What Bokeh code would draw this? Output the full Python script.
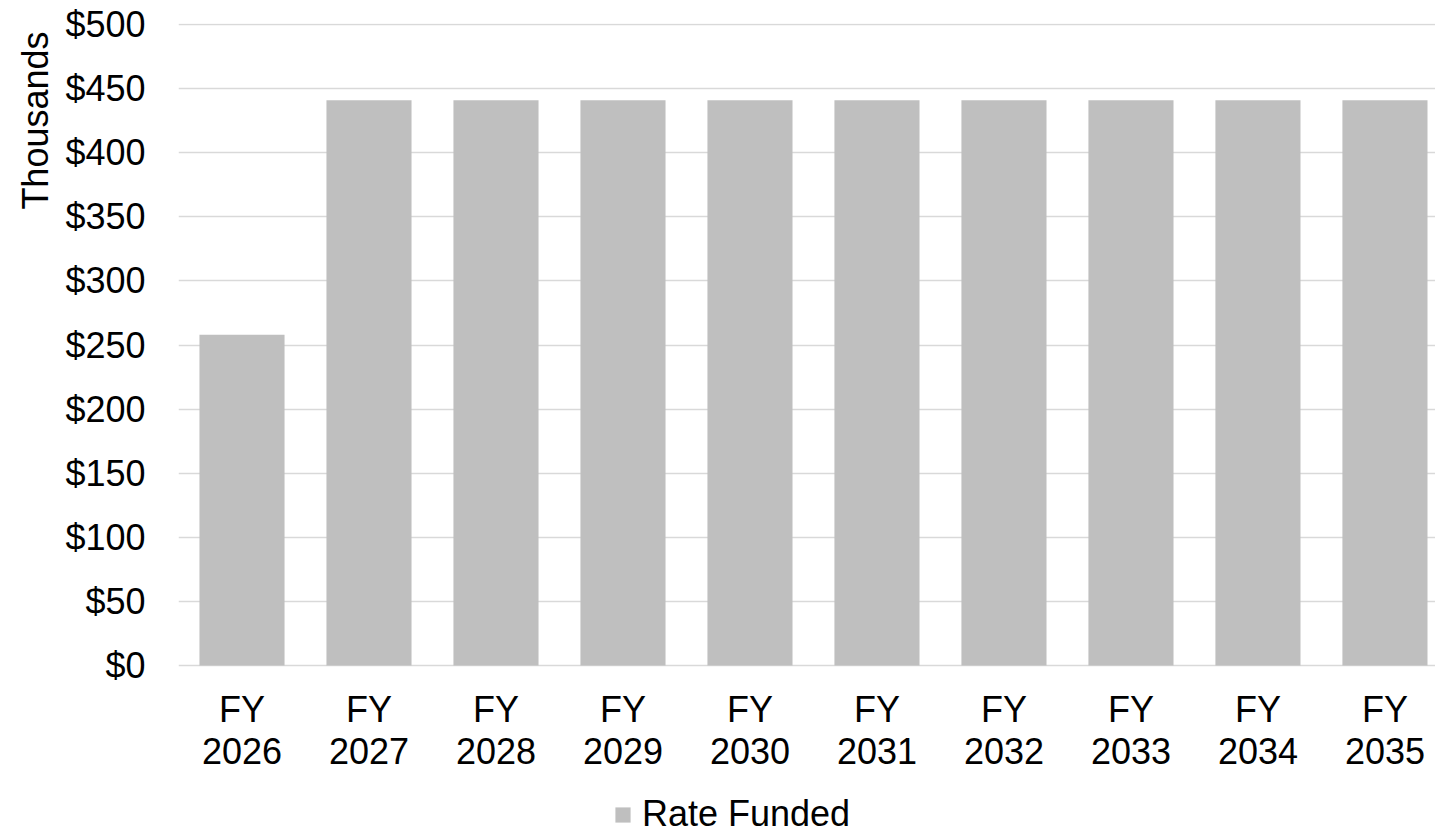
import numpy as np
from bokeh.plotting import figure
from bokeh.models import FixedTicker, Legend, LegendItem, Title, ColumnDataSource, Range1d
from bokeh.core.properties import value
from bokeh.embed import file_html
from bokeh.resources import INLINE

categories = ["FY\n2026", "FY\n2027", "FY\n2028", "FY\n2029", "FY\n2030",
              "FY\n2031", "FY\n2032", "FY\n2033", "FY\n2034", "FY\n2035"]
rate_funded = [258, 441, 441, 441, 441, 441, 441, 441, 441, 441]
y_ticks = [0, 50, 100, 150, 200, 250, 300, 350, 400, 450, 500]
y_tick_labels = ["$0", "$50", "$100", "$150", "$200", "$250", "$300", "$350", "$400", "$450", "$500"]
series_name = "Rate Funded"
axis_title = "Thousands"

FONT = "Liberation Sans"
FS = "36px"

xs = list(range(len(categories)))
src = ColumnDataSource(dict(x=xs, top=rate_funded))
lab_src = ColumnDataSource(dict(x=xs, y=[0] * len(xs), text=categories))

p = figure(frame_width=1257, frame_height=812, output_backend="svg", toolbar_location=None,
           x_range=Range1d(-0.5, 9.398), y_range=Range1d(-132.6, 500.8),
           x_axis_location=None,
           min_border_left=178, min_border_top=23, min_border_right=0, min_border_bottom=0)
p.outline_line_color = None
p.background_fill_color = "white"

r = p.vbar(x="x", top="top", width=0.67, source=src, fill_color="#BFBFBF", line_color=None)

# category labels under the bars (x axis)
p.text(x="x", y="y", text="text", source=lab_src, y_offset=23,
       text_baseline="top", text_align="center", text_font=value(FONT),
       text_font_size=value(FS), text_color="black", text_line_height=1.04)

p.xgrid.grid_line_color = None
p.ygrid.grid_line_color = "#D9D9D9"
p.ygrid.grid_line_width = 1.5
p.ygrid.ticker = FixedTicker(ticks=y_ticks)

p.yaxis.ticker = FixedTicker(ticks=y_ticks)
p.yaxis.major_label_overrides = {t: l for t, l in zip(y_ticks, y_tick_labels)}
ax = p.yaxis[0]
ax.axis_line_color = None
ax.major_tick_line_color = None
ax.minor_tick_line_color = None
ax.major_tick_out = 0
ax.major_tick_in = 0
ax.major_label_text_font = FONT
ax.major_label_text_font_size = FS
ax.major_label_text_color = "black"
ax.major_label_standoff = 33

t = Title(text=axis_title, align="right", text_font=FONT, text_font_size=FS,
          text_font_style="normal", text_color="black", offset=8)
if "standoff" in Title.properties():
    t.standoff = 14
p.add_layout(t, "left")

legend = Legend(items=[LegendItem(label=series_name, renderers=[r])],
                orientation="horizontal", location=(435, 0))
legend.label_text_font = FONT
legend.label_text_font_size = FS
legend.label_text_color = "black"
legend.glyph_width = 19
legend.glyph_height = 19
legend.label_height = 41
legend.label_standoff = 10
legend.padding = 0
legend.margin = 0
legend.border_line_color = None
legend.background_fill_alpha = 0
p.add_layout(legend, "center")

open("out.html", "w").write(file_html(p, INLINE))
